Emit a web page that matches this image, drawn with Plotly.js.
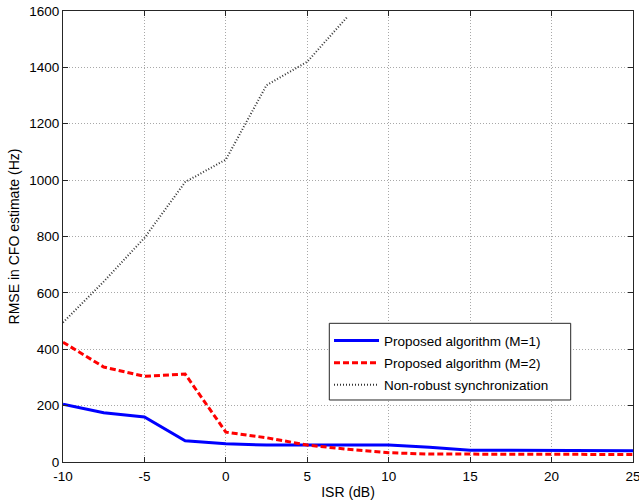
<!DOCTYPE html>
<html>
<head>
<meta charset="utf-8">
<script src="https://cdn.plot.ly/plotly-3.0.1.min.js"></script>
<style>html,body{margin:0;padding:0;background:#fff;}#chart{width:639px;height:500px;}</style>
</head>
<body>
<div id="chart"></div>
<script>
// ISR (dB)
const isr = [-10, -7.5, -5, -2.5, 0, 2.5, 5, 7.5, 10, 12.5, 15, 17.5, 20, 22.5, 25];
const rmseM1 = [205, 175, 160, 75, 65, 60, 60, 60, 60, 52, 42, 42, 42, 40, 40];
const rmseM2 = [425, 337, 304, 312, 106, 86, 60, 45, 33, 28, 28, 27, 27, 27, 27];
const isrNonRobust = [-10, -7.5, -5, -2.5, 0, 2.5, 5, 7.5];
const rmseNonRobust = [495, 640, 795, 993, 1073, 1337, 1420, 1582];
const names = ['Proposed algorithm (M=1)', 'Proposed algorithm (M=2)', 'Non-robust synchronization'];
const xTicks = [-10, -5, 0, 5, 10, 15, 20, 25];
const yTicks = [0, 200, 400, 600, 800, 1000, 1200, 1400, 1600];

const fam = 'Liberation Sans, Arial, sans-serif';
const font = {family: fam, size: 13.5, color: '#000'};
const traces = [
  {x: isr, y: rmseM1, name: names[0], legendgroup: 'g1', mode: 'lines', line: {color: '#0000ff', width: 3}},
  {x: isr, y: rmseM2, name: names[1], legendgroup: 'g2', mode: 'lines', line: {color: '#ff0000', width: 3, dash: '6px,3px'}},
  {x: isrNonRobust, y: rmseNonRobust, name: names[2], legendgroup: 'g3', mode: 'lines', line: {color: '#333333', width: 2, dash: '1px,2px'}}
];
const axisCommon = {
  showline: true, linecolor: '#262626', linewidth: 1, mirror: 'ticks',
  ticks: 'inside', ticklen: 5, tickcolor: '#262626',
  showgrid: true, gridcolor: '#a8a8a8', griddash: '1px,2px', gridwidth: 1,
  zeroline: false, tickfont: font, ticklabeloverflow: 'allow'
};
const layout = {
  width: 639, height: 500,
  margin: {l: 63, r: 6, t: 11, b: 38},
  paper_bgcolor: '#fff', plot_bgcolor: '#fff',
  font: font,
  showlegend: true,
  legend: {
    x: 0.4667, y: 0.303, xanchor: 'left', yanchor: 'top',
    borderwidth: 0, bgcolor: 'rgba(0,0,0,0)',
    font: {family: fam, size: 13.5, color: '#000'},
    itemwidth: 45, tracegroupgap: 1.5, traceorder: 'grouped'
  },
  shapes: [{
    type: 'rect', xref: 'paper', yref: 'paper', layer: 'above',
    x0: 0.4672, x1: 0.8907, y0: 0.1375, y1: 0.3075,
    line: {color: '#262626', width: 1}, fillcolor: '#ffffff'
  }],
  xaxis: Object.assign({}, axisCommon, {
    range: [-10, 25], tickvals: xTicks, ticktext: xTicks.map(String),
    ticklabelstandoff: 2,
    title: {text: 'ISR (dB)', font: {family: fam, size: 14, color: '#000'}, standoff: 3}
  }),
  yaxis: Object.assign({}, axisCommon, {
    range: [0, 1600], tickvals: yTicks, ticktext: yTicks.map(String),
    title: {text: 'RMSE in CFO estimate (Hz)', font: {family: fam, size: 14, color: '#000'}, standoff: 6}
  })
};
Plotly.newPlot('chart', traces, layout, {displayModeBar: false, staticPlot: true});
</script>
</body>
</html>
